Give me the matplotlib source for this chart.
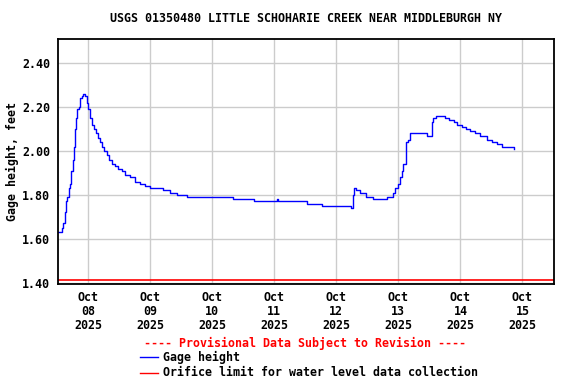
import matplotlib
matplotlib.use("Agg")
import matplotlib.pyplot as plt
import datetime as dt

# hours after Oct 08 2025 00:00 and gage height in feet
hours = [-11.5, -10.2, -9.6, -9.0, -8.5, -8.0, -7.5, -7.0, -6.6, -5.9, -5.5, -5.0,
         -4.6, -4.1, -3.6, -3.1, -2.3, -1.8, -1.3, -0.5, 0.1, 0.8, 1.5, 2.3, 3.1,
         3.9, 4.6, 5.4, 6.2, 7.2, 8.2, 9.2, 10.5, 11.7, 13.0, 14.3, 16.3, 18.2, 20.1,
         22.1, 24.0, 26.6, 29.1, 31.7, 34.3, 38.2, 43.4, 49.8, 56.2, 62.7, 64.0,
         70.5, 73.0, 73.6, 76.9, 82.7, 84.7, 90.5, 101.4, 101.8, 102.3, 102.7, 103.7,
         105.0, 106.6, 107.6, 110.4, 115.0, 115.6, 117.5, 117.9, 118.8, 119.7, 120.5,
         121.4, 122.0, 122.8, 122.9, 123.6, 124.6, 125.3, 130.5, 131.1, 132.4, 133.0,
         133.6, 134.6, 137.5, 138.2, 139.5, 141.4, 142.7, 144.6, 146.3, 147.9, 149.8,
         151.7, 154.3, 156.3, 158.2, 160.1, 162.7, 164.6]
gage = [1.63, 1.65, 1.67, 1.72, 1.77, 1.79, 1.83, 1.85, 1.91, 1.96, 2.02, 2.10,
        2.15, 2.19, 2.20, 2.24, 2.25, 2.26, 2.25, 2.22, 2.19, 2.15, 2.12, 2.10, 2.08,
        2.06, 2.04, 2.02, 2.00, 1.98, 1.96, 1.94, 1.93, 1.92, 1.91, 1.89, 1.88, 1.86,
        1.85, 1.84, 1.83, 1.83, 1.82, 1.81, 1.80, 1.79, 1.79, 1.79, 1.78, 1.78, 1.77,
        1.77, 1.78, 1.77, 1.77, 1.77, 1.76, 1.75, 1.75, 1.74, 1.80, 1.83, 1.82,
        1.81, 1.81, 1.79, 1.78, 1.78, 1.79, 1.79, 1.81, 1.83, 1.85, 1.88,
        1.91, 1.94, 1.98, 2.04, 2.05, 2.08, 2.08, 2.08, 2.07, 2.07, 2.13,
        2.15, 2.16, 2.16, 2.15, 2.14, 2.13, 2.12, 2.11, 2.10, 2.09, 2.08,
        2.07, 2.05, 2.04, 2.03, 2.02, 2.02, 2.01]
orifice_limit = 1.41
tick_days = [8, 9, 10, 11, 12, 13, 14, 15]
y_ticks = [1.40, 1.60, 1.80, 2.00, 2.20, 2.40]

t0 = dt.datetime(2025, 10, 8)
times = [t0 + dt.timedelta(hours=h) for h in hours]

plt.rcParams['font.family'] = ['DejaVu Sans Mono']
plt.rcParams['font.weight'] = 'bold'
fs = 8.35

fig = plt.figure(figsize=(5.76, 3.84), dpi=100)
ax = fig.add_axes([58 / 576, 1 - 284 / 384, 496 / 576, 245 / 384])

ax.plot(times, gage, color='blue', lw=1, drawstyle='steps-post')
ax.axhline(orifice_limit, color='red', lw=1.2)

ax.set_xlim(t0 - dt.timedelta(hours=11.6), t0 + dt.timedelta(hours=7 * 24 + 12.2))
ax.set_ylim(1.394, 2.51)
ax.set_yticks(y_ticks)
ax.set_yticklabels([f"{v:.2f}" for v in y_ticks], fontsize=fs, fontweight='bold')
xt = [dt.datetime(2025, 10, d) for d in tick_days]
ax.set_xticks(xt)
ax.set_xticklabels([f"Oct\n{d:02d}\n2025" for d in tick_days], fontsize=fs,
                   fontweight='bold', linespacing=1.08)
ax.tick_params(axis='x', length=0, pad=5)
ax.tick_params(axis='y', length=0, pad=5.5)
ax.grid(True, color='#cccccc', lw=1)
ax.set_axisbelow(True)
for s in ax.spines.values():
    s.set_linewidth(1.3)

ax.set_ylabel("Gage height, feet", fontsize=fs, fontweight='bold', labelpad=2.5)
fig.text(306 / 576, 1 - 19 / 384, "USGS 01350480 LITTLE SCHOHARIE CREEK NEAR MIDDLEBURGH NY",
         ha='center', va='center', fontsize=fs, fontweight='bold')

fig.text(305.5 / 576, 1 - 343 / 384, "---- Provisional Data Subject to Revision ----",
         ha='center', va='center', fontsize=fs, fontweight='bold', color='red')
fig.add_artist(plt.Line2D([140 / 576, 158 / 576], [1 - 357 / 384] * 2, color='blue', lw=1))
fig.text(163 / 576, 1 - 357 / 384, "Gage height", ha='left', va='center',
         fontsize=fs, fontweight='bold')
fig.add_artist(plt.Line2D([140 / 576, 158 / 576], [1 - 372.5 / 384] * 2, color='red', lw=1))
fig.text(163 / 576, 1 - 372.5 / 384, "Orifice limit for water level data collection",
         ha='left', va='center', fontsize=fs, fontweight='bold')

fig.savefig("out.png", dpi=100)
